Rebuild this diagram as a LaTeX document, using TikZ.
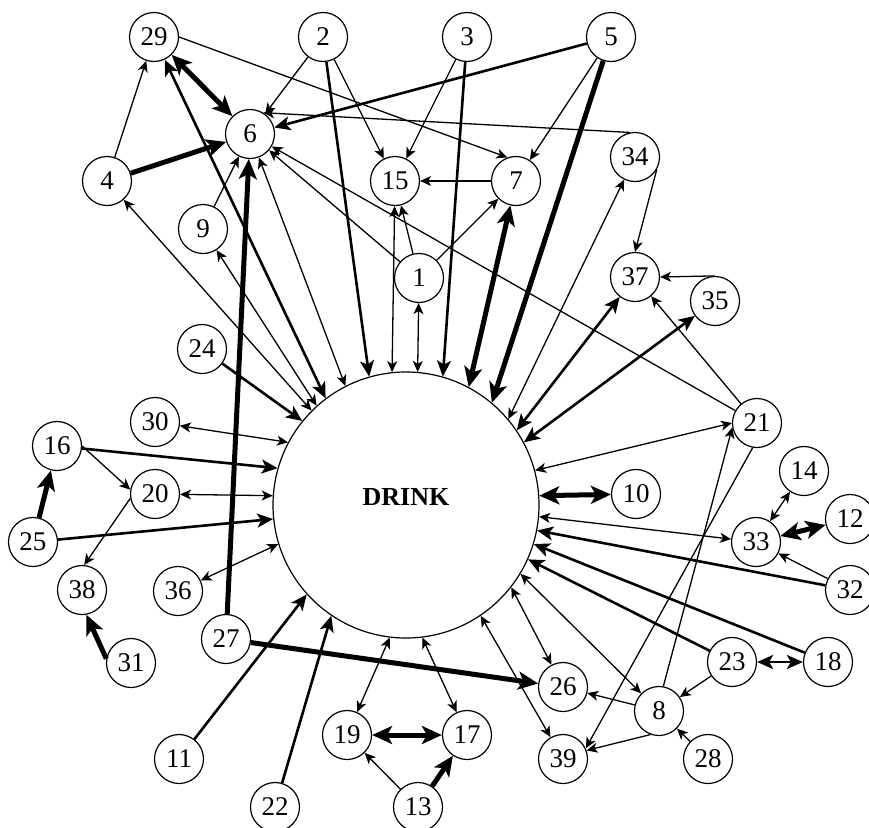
\documentclass[tikz,border=0pt]{standalone}
\usepackage{fontspec}
\setmainfont{Liberation Serif}
\usetikzlibrary{arrows.meta}

\begin{document}
\begin{tikzpicture}[x=1pt, y=-1pt,
        var/.style = {circle, draw, line width=1.2pt,
            minimum size = 49pt, inner sep=0pt,
            font=\fontsize{27}{27}\selectfont},
        drink/.style = {circle, draw, line width=1.2pt,
            minimum size = 266pt, inner sep=0pt},
        wlink/.style = {line width=1.3pt, >={Stealth[length=11pt, width=10pt, inset=3pt]}},
        mlink/.style = {line width=2.6pt, >={Stealth[length=16pt, width=14pt, inset=4pt]}},
        slink/.style = {line width=5pt, >={Stealth[length=20pt, width=18pt, inset=5pt]}}]

    \useasboundingbox (0,0) rectangle (869,827);

    % Central variable
    \node[drink] (drink) at (406,505) {};
    \node[font=\fontsize{26}{26}\selectfont\bfseries] (drinklabel) at (406,497) {DRINK};

    % Top row
    \node[var] (n29) at (154,37) {29};
    \node[var] (n2) at (323,37) {2};
    \node[var] (n3) at (467,37) {3};
    \node[var] (n5) at (611,37) {5};
    \node[var] (n6) at (250,134) {6};
    \node[var] (n4) at (107,181) {4};
    \node[var] (n15) at (395,181) {15};
    \node[var] (n7) at (516,181) {7};
    \node[var] (n34) at (635,157) {34};
    \node[var] (n9) at (203,229) {9};
    \node[var] (n1) at (419,278) {1};
    \node[var] (n37) at (635,277) {37};
    \node[var] (n35) at (715,301) {35};
    \node[var] (n24) at (202,349) {24};

    % Left side
    \node[var] (n30) at (155,422) {30};
    \node[var] (n16) at (57,446) {16};
    \node[var] (n20) at (155,494) {20};
    \node[var] (n25) at (33,542) {25};
    \node[var] (n38) at (82,590) {38};
    \node[var] (n36) at (178,591) {36};
    \node[var] (n27) at (226,639) {27};
    \node[var] (n31) at (131,663) {31};

    % Bottom row
    \node[var] (n11) at (179,759) {11};
    \node[var] (n22) at (275,807) {22};
    \node[var] (n19) at (347,735) {19};
    \node[var] (n17) at (467,735) {17};
    \node[var] (n13) at (418,807) {13};
    \node[var] (n39) at (563,759) {39};
    \node[var] (n26) at (563,687) {26};
    \node[var] (n8) at (659,711) {8};
    \node[var] (n28) at (708,759) {28};

    % Right side
    \node[var] (n21) at (757,423) {21};
    \node[var] (n10) at (636,494) {10};
    \node[var] (n14) at (804,471) {14};
    \node[var] (n12) at (850,519) {12};
    \node[var] (n33) at (756,542) {33};
    \node[var] (n32) at (850,590) {32};
    \node[var] (n23) at (732,662) {23};
    \node[var] (n18) at (828,662) {18};

    % Links with DRINK
    \draw[mlink, ->] (n24) -- (drink.141);
    \draw[wlink, <->] (n4) -- (drink.135);
    \draw[wlink, <->] (n9) -- (drink.132);
    \draw[mlink, <->] (n29) -- (drink.127);
    \draw[wlink, <->] (n6) -- (drink.117);
    \draw[mlink, ->] (n2) -- (drink.106);
    \draw[wlink, <->] (n15) -- (drink.96);
    \draw[wlink, <->] (n1) -- (drink.85);
    \draw[mlink, ->] (n3) -- (drink.74);
    \draw[slink, <->] (n7) -- (drink.62);
    \draw[slink, ->] (n5) -- (drink.50);
    \draw[wlink, <->] (n34) -- (drink.40);
    \draw[mlink, <->] (n37) -- (drink.34);
    \draw[mlink, <->] (n35) -- (drink.28);
    \draw[wlink, <->] (n21.180) -- (drink.15);
    \draw[slink, <->] (n10) -- (drink.4);
    \draw[wlink, <->] (n33) -- (drink.355);
    \draw[mlink, ->] (n32) -- (drink.349);
    \draw[mlink, ->] (n18) -- (drink.343);
    \draw[mlink, ->] (n23) -- (drink.336);
    \draw[wlink, <->] (n8) -- (drink.329);
    \draw[wlink, <->] (n26) -- (drink.322);
    \draw[wlink, <->] (n39) -- (drink.304);
    \draw[wlink, <->] (n17) -- (drink.277);
    \draw[wlink, <->] (n19) -- (drink.263);
    \draw[mlink, ->] (n22) -- (drink.236);
    \draw[mlink, ->] (n11) -- (drink.222);
    \draw[wlink, <->] (n36) -- (drink.197);
    \draw[mlink, ->] (n25) -- (drink.186);
    \draw[wlink, <->] (n20) -- (drink.176);
    \draw[mlink, ->] (n16) -- (drink.164);
    \draw[wlink, <->] (n30) -- (drink.152);

    % Links around 6, 7 and 15
    \draw[wlink, ->] (n4) -- (n29);
    \draw[slink, ->] (n4) -- (n6);
    \draw[slink, <->] (n29) -- (n6);
    \draw[wlink, ->] (n29.0) -- (n7.110);
    \draw[wlink, ->] (n2) -- (n6);
    \draw[wlink, ->] (n2) -- (n15);
    \draw[wlink, ->] (n3) -- (n15);
    \draw[mlink, ->] (n5) -- (n6);
    \draw[wlink, ->] (n5) -- (n7);
    \draw[wlink, ->] (n7) -- (n15);
    \draw[wlink, ->] (n1) -- (n7);
    \draw[wlink, ->] (n1) -- (n15);
    \draw[wlink, ->] (n1) -- (n6);
    \draw[wlink, ->] (n9) -- (n6);
    \draw[wlink, ->] (n34.102) -- (n6.58);
    \draw[wlink, ->] (n21) -- (n6);
    \draw[slink, ->] (n27) -- (n6);

    % Links around 37
    \draw[wlink, ->] (n34.330) -- (n37.north);
    \draw[wlink, ->] (n35.north) -- (n37.east);
    \draw[wlink, ->] (n21) -- (n37);

    % Left group
    \draw[slink, ->] (n25) -- (n16);
    \draw[wlink, ->] (n16.0) -- (n20.170);
    \draw[wlink, ->] (n20.190) -- (n38.85);
    \draw[slink, ->] (n31.170) -- (n38.280);
    \draw[slink, ->] (n27) -- (n26);

    % Bottom group
    \draw[slink, <->] (n19) -- (n17);
    \draw[wlink, ->] (n13) -- (n19);
    \draw[slink, ->] (n13) -- (n17);

    % Right group
    \draw[wlink, <->] (n14) -- (n33);
    \draw[slink, <->] (n12) -- (n33);
    \draw[wlink, ->] (n32) -- (n33);
    \draw[mlink, <->] (n23) -- (n18);
    \draw[wlink, ->] (n23) -- (n8);
    \draw[wlink, ->] (n8) -- (n26);
    \draw[wlink, ->] (n8.250) -- (n39.20);
    \draw[wlink, ->] (n28) -- (n8);
    \draw[wlink, ->] (n8.80) -- (n21.190);
    \draw[wlink, ->] (n21.260) -- (n39.25);

\end{tikzpicture}
\end{document}
